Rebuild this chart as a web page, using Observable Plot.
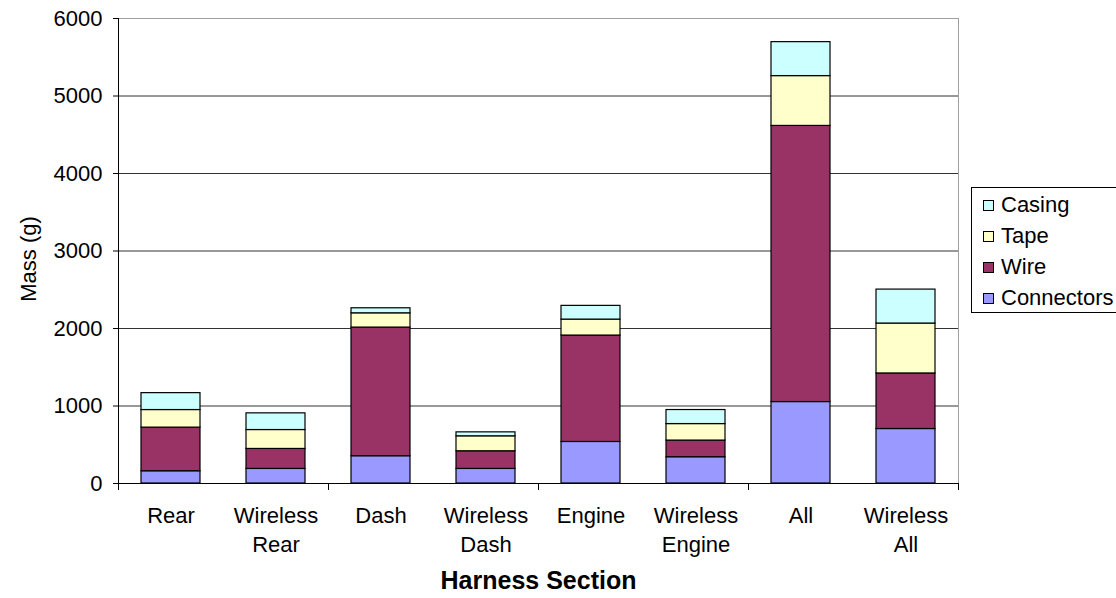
<!DOCTYPE html>
<html>
<head>
<meta charset="utf-8">
<script src="https://cdn.jsdelivr.net/npm/d3@7"></script>
<script src="https://cdn.jsdelivr.net/npm/@observablehq/plot@0.6"></script>
<style>
  body { margin: 0; background: #fff; }
  #wrap { position: relative; width: 1116px; height: 598px; overflow: hidden; font-family: "Liberation Sans", Arial, sans-serif; }
  .legend { position: absolute; left: 971px; top: 187px; width: 170px; height: 126px; box-sizing: border-box;
            border: 1px solid #000; background: #fff; padding-top: 1px; }
  .legend .row { height: 31px; line-height: 31px; font-size: 22px; color: #000; white-space: nowrap; }
  .legend .sw { display: inline-block; width: 9px; height: 9px; border: 1px solid #000; margin: 0 7px 0 11px; vertical-align: 1px; }
</style>
</head>
<body>
<div id="wrap"></div>
<script>
// Harness sections along the x axis
const sections = ["Rear", "Wireless Rear", "Dash", "Wireless Dash", "Engine", "Wireless Engine", "All", "Wireless All"];

// Mass of each component (g), one value per section
const connectors = [158, 188, 352, 188, 536, 339, 1051, 703];
const wire       = [563, 258, 1660, 228, 1373, 215, 3563, 717];
const tape       = [227, 244, 184, 193, 206, 213, 643, 644];
const casing     = [218, 215, 65, 51, 177, 181, 438, 438];

// Stack order, bottom to top, and fill colours
const parts  = ["Connectors", "Wire", "Tape", "Casing"];
const colors = ["#9999ff", "#993366", "#ffffcc", "#ccffff"];
const series = [connectors, wire, tape, casing];

const yTicks = [0, 1000, 2000, 3000, 4000, 5000, 6000];

const rows = parts.flatMap((part, i) =>
  sections.map((section, j) => ({section, part, mass: series[i][j]}))
);

const width = 1116, height = 598;
const marginLeft = 118, marginRight = 158, marginTop = 18, marginBottom = 115;
// outer padding is half the inner padding, so the band step is the plot width / count
const step = (width - marginLeft - marginRight) / sections.length;
const font = "Liberation Sans, Arial, sans-serif";

const chart = Plot.plot({
  width, height, marginLeft, marginRight, marginTop, marginBottom,
  style: {fontFamily: font, color: "#000", background: "#fff"},
  x: {domain: sections, paddingInner: 0.44, paddingOuter: 0.22, axis: null},
  y: {domain: [0, 6000], axis: null},
  color: {domain: parts, range: colors},
  marks: [
    Plot.gridY(yTicks.filter(d => d > 0 && d < 6000), {stroke: "#333", strokeOpacity: 1}),
    Plot.frame({stroke: "#a0a0a0"}),
    Plot.barY(rows, {x: "section", y: "mass", fill: "part", stroke: "#000", strokeWidth: 1.2}),
    Plot.frame({anchor: "left", stroke: "#000"}),
    Plot.ruleY([0], {stroke: "#000"}),
    Plot.axisY({ticks: yTicks, tickSize: 5, tickPadding: 11, fontSize: 22, tickFormat: d => String(d), label: null, stroke: "#000"}),
    // category separators below the axis, every second category
    Plot.axisX({ticks: sections.filter((d, i) => i % 2 === 0), tickSize: 7, tickFormat: () => "", dx: -step / 2, label: null}),
    Plot.axisX({ticks: [sections[sections.length - 1]], tickSize: 7, tickFormat: () => "", dx: step / 2, label: null}),
    Plot.axisX({ticks: sections, tickSize: 0, tickPadding: 19, fontSize: 22, lineHeight: 1.32,
                tickFormat: d => d.replace(" ", "\n"), label: null}),
    Plot.text(["Mass (g)"], {frameAnchor: "left", textAnchor: "middle", rotate: -90, dx: -90, dy: 8, fontSize: 22}),
    Plot.text(["Harness Section"], {frameAnchor: "bottom", dy: 105, fontSize: 25, fontWeight: "bold"})
  ]
});

const wrap = document.getElementById("wrap");
wrap.appendChild(chart);

// legend, top entry first
const legend = document.createElement("div");
legend.className = "legend";
for (let i = parts.length - 1; i >= 0; i--) {
  const row = document.createElement("div");
  row.className = "row";
  const sw = document.createElement("span");
  sw.className = "sw";
  sw.style.background = colors[i];
  row.appendChild(sw);
  row.appendChild(document.createTextNode(parts[i]));
  legend.appendChild(row);
}
wrap.appendChild(legend);
</script>
</body>
</html>
